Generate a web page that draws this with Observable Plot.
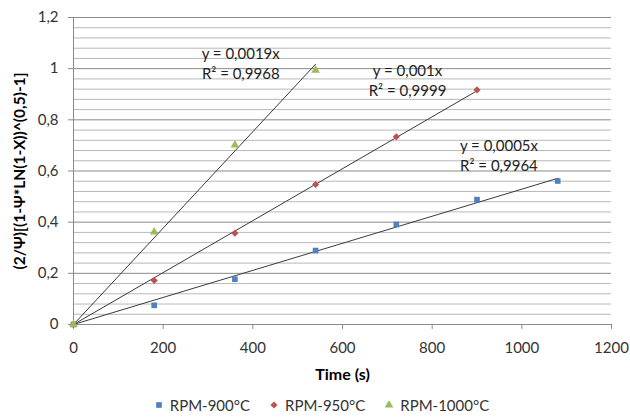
<!DOCTYPE html>
<html><head><meta charset="utf-8">
<script src="https://cdn.jsdelivr.net/npm/d3@7"></script>
<script src="https://cdn.jsdelivr.net/npm/@observablehq/plot@0.6"></script>
<style>
body{margin:0;background:#fff;font-family:Lato,"Liberation Sans",sans-serif;}
#chart svg{font-family:Lato,"Liberation Sans",sans-serif;overflow:visible;}
g[aria-label="x-axis label"] text, g[aria-label="y-axis label"] text{font-weight:bold;fill:#000;}
g[aria-label="x-axis label"] text{font-size:16px;}
#legend{display:flex;justify-content:center;gap:20px;height:30px;align-items:center;font-size:15px;color:#333;padding-left:14px;}
#legend span{display:inline-flex;align-items:center;gap:7px;}
</style></head>
<body><div id="chart"></div><div id="legend"></div>
<script>
const seriesNames = ["RPM-900°C", "RPM-950°C", "RPM-1000°C"];
const seriesColors = ["#4F81BD", "#C0504D", "#9BBB59"];
const seriesSymbols = ["square", "diamond2", "triangle"];
const time900 = [0, 180, 360, 540, 720, 900, 1080];
const val900 = [0, 0.075, 0.177, 0.289, 0.391, 0.488, 0.561];
const time950 = [0, 180, 360, 540, 720, 900];
const val950 = [0, 0.172, 0.357, 0.547, 0.734, 0.917];
const time1000 = [0, 180, 360, 540];
const val1000 = [0, 0.362, 0.702, 0.994];
const eqLabels = ["y = 0,0005x\nR² = 0,9964", "y = 0,001x\nR² = 0,9999", "y = 0,0019x\nR² = 0,9968"];
const labelX = [949, 745, 373];
const labelY = [0.664, 0.959, 1.023];
const xTicks = [0, 200, 400, 600, 800, 1000, 1200];
const yTicks = [0, 0.2, 0.4, 0.6, 0.8, 1, 1.2];
const yGrid = d3.range(0, 31).map(i => i * 0.04);

const times = [time900, time950, time1000];
const vals = [val900, val950, val1000];
const points = [];
times.forEach((ts, s) => ts.forEach((t, i) => points.push({s, x: t, y: vals[s][i]})));
const trends = [];
times.forEach((ts, s) => {
  let sxy = 0, sxx = 0;
  ts.forEach((t, i) => { sxy += t * vals[s][i]; sxx += t * t; });
  const k = sxy / sxx, xmax = d3.max(ts);
  trends.push({s, x: 0, y: 0}, {s, x: xmax, y: k * xmax});
});
const labels = eqLabels.map((t, i) => ({t, x: labelX[i], y: labelY[i]}));
const fmt = d => String(d).replace(".", ",");

const plot = Plot.plot({
  width: 630, height: 390,
  marginLeft: 73, marginRight: 19, marginTop: 17, marginBottom: 66,
  style: {fontSize: "15px", color: "#333"},
  x: {domain: [0, 1200]},
  y: {domain: [0, 1.2]},
  marks: [
    Plot.ruleY(yGrid, {stroke: d => (Math.round(d * 100) % 20 === 0) ? "#8a8a8a" : "#b8b8b8", strokeWidth: 1}),
    Plot.ruleY([0], {stroke: "#8a8a8a"}),
    Plot.ruleX([0], {stroke: "#8a8a8a"}),
    Plot.axisX({ticks: xTicks, tickSize: 5, tickPadding: 13, tickFormat: fmt, stroke: "#8a8a8a", fontSize: 15, label: "Time (s)", labelAnchor: "center", labelOffset: 55, labelArrow: "none"}),
    Plot.axisY({ticks: yTicks, tickSize: 5, tickPadding: 10, tickFormat: fmt, stroke: "#8a8a8a", fontSize: 15, label: "(2/Ψ)[(1-Ψ*LN(1-X))^(0,5)-1]", labelAnchor: "center", labelOffset: 60, labelArrow: "none"}),
    Plot.line(trends, {x: "x", y: "y", z: "s", stroke: "#3a3a3a", strokeWidth: 1}),
    Plot.dot(points, {x: "x", y: "y", fill: d => seriesColors[d.s], symbol: d => seriesSymbols[d.s], r: 3.2, stroke: "none"}),
    Plot.text(labels, {x: "x", y: "y", text: "t", fontSize: 15, lineHeight: 1.35, textAnchor: "middle", fill: "#222"})
  ]
});
document.getElementById("chart").appendChild(plot);
const yl = plot.querySelector('g[aria-label="y-axis label"] text');
if (yl) yl.style.fontSize = "15.5px";

const legend = document.getElementById("legend");
const symPaths = {square: d3.symbolSquare, diamond2: d3.symbolDiamond2, triangle: d3.symbolTriangle};
seriesNames.forEach((n, i) => {
  const span = document.createElement("span");
  const p = d3.symbol(symPaths[seriesSymbols[i]], 32)();
  span.innerHTML = `<svg width="8" height="8" viewBox="-4 -4 8 8"><path d="${p}" fill="${seriesColors[i]}"/></svg>${n}`;
  legend.appendChild(span);
});
</script></body></html>
